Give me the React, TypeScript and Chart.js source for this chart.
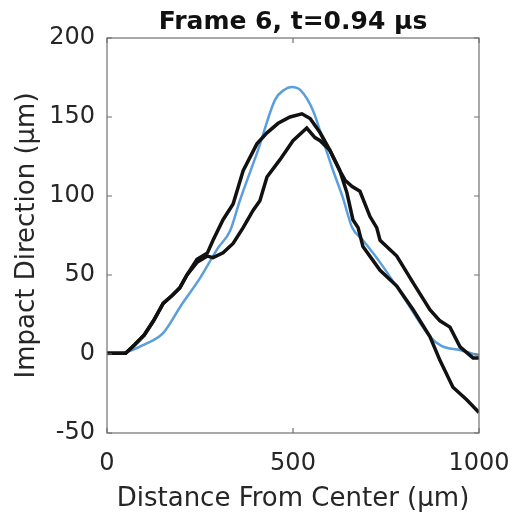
import React, { useEffect, useRef } from "react";
import { Chart, registerables } from "chart.js";

Chart.register(...registerables);

const titleText = "Frame 6, t=0.94 μs";
const xTitle = "Distance From Center (μm)";
const yTitle = "Impact Direction (μm)";
const xTicks = [0, 500, 1000];
const yTicks = [-50, 0, 50, 100, 150, 200];

const modelX = [0, 50, 100, 150, 200, 250, 298, 331, 357, 406, 452, 475, 497, 520, 554, 581, 608, 634, 659, 688, 734, 800, 868, 900, 949, 1000];
const modelY = [0, 1, 6, 13, 31, 48, 67, 78, 97, 129, 161, 167, 169, 167, 154, 135, 116, 99, 80, 72, 58, 35, 11, 5, 2.5, -1];

const measAX = [0, 50, 75, 100, 125, 151, 175, 196, 215, 242, 270, 285, 312, 339, 366, 403, 430, 460, 492, 524, 546, 573, 599, 626, 645, 661, 675, 688, 734, 779, 823, 868, 895, 930, 967, 1000];
const measAY = [0.5, 0.5, 6, 12, 21, 32, 37, 42, 50, 60, 64, 72, 85, 95, 116, 133, 140, 146, 150, 152, 149, 140, 129, 116, 102, 85, 80, 68, 53, 43, 28, 11, -4, -21, -29, -37];

const measBX = [0, 50, 75, 100, 125, 151, 175, 196, 215, 242, 270, 285, 312, 339, 366, 393, 411, 430, 465, 500, 537, 559, 573, 599, 626, 640, 659, 680, 707, 725, 734, 779, 823, 868, 895, 922, 949, 984, 1000];
const measBY = [0.5, 0.5, 6, 12, 21, 32, 37, 42, 50, 58, 62, 61, 64, 70, 80, 91, 97, 112, 123, 135, 143, 137, 135, 129, 116, 110, 106, 103, 87, 80, 72, 62, 45, 28, 21, 17, 4.5, -2.5, -2.5];

const toPts = (xs: number[], ys: number[]) => xs.map((x, i) => ({ x, y: ys[i] }));

const FONT = "'DejaVu Sans', 'Liberation Sans', Arial, sans-serif";
const TEXT = "#262626";
const AXIS = "#707070";

const boxPlugin = {
  id: "boxPlugin",
  afterDraw(chart: any) {
    const { ctx, chartArea: a, scales } = chart;
    const xs = scales.x;
    const ys = scales.y;
    ctx.save();
    ctx.strokeStyle = AXIS;
    ctx.lineWidth = 1.2;
    ctx.strokeRect(a.left, a.top, a.right - a.left, a.bottom - a.top);
    const L = 5;
    ctx.beginPath();
    for (const v of xTicks) {
      const px = xs.getPixelForValue(v);
      ctx.moveTo(px, a.bottom);
      ctx.lineTo(px, a.bottom - L);
      ctx.moveTo(px, a.top);
      ctx.lineTo(px, a.top + L);
    }
    for (const v of yTicks) {
      const py = ys.getPixelForValue(v);
      ctx.moveTo(a.left, py);
      ctx.lineTo(a.left + L, py);
      ctx.moveTo(a.right, py);
      ctx.lineTo(a.right - L, py);
    }
    ctx.stroke();
    ctx.fillStyle = "#111";
    ctx.font = `bold 25px ${FONT}`;
    ctx.textAlign = "center";
    ctx.textBaseline = "middle";
    ctx.fillText(titleText, (a.left + a.right) / 2, 22);
    ctx.restore();
  },
};

export default function App() {
  const ref = useRef<HTMLCanvasElement | null>(null);
  useEffect(() => {
    if (!ref.current) return;
    const chart = new Chart(ref.current, {
      type: "line",
      data: {
        datasets: [
          {
            data: toPts(measAX, measAY),
            borderColor: "#111111",
            borderWidth: 3.5,
            pointRadius: 0,
            tension: 0,
            order: 1,
          },
          {
            data: toPts(measBX, measBY),
            borderColor: "#111111",
            borderWidth: 3.5,
            pointRadius: 0,
            tension: 0,
            order: 1,
          },
          {
            data: toPts(modelX, modelY),
            borderColor: "#5B9EDD",
            borderWidth: 2.5,
            pointRadius: 0,
            cubicInterpolationMode: "monotone",
            order: 2,
          },
        ],
      },
      options: {
        animation: false,
        responsive: false,
        layout: { padding: { top: 38, right: 34, left: 0, bottom: 0 } },
        plugins: { legend: { display: false }, tooltip: { enabled: false }, title: { display: false } },
        scales: {
          x: {
            type: "linear",
            min: 0,
            max: 1000,
            afterBuildTicks: (s: any) => {
              s.ticks = xTicks.map((v) => ({ value: v }));
            },
            afterFit: (s: any) => {
              s.height = 83;
              s.paddingLeft = 0;
              s.paddingRight = 0;
            },
            grid: { display: false, drawTicks: false },
            border: { display: false },
            ticks: {
              color: TEXT,
              font: { family: FONT, size: 24 },
              padding: 16,
              maxRotation: 0,
              callback: (v: any) => String(v),
            },
            title: {
              display: true,
              text: xTitle,
              color: TEXT,
              font: { family: FONT, size: 26 },
              padding: { top: 0, bottom: 1 },
            },
          },
          y: {
            type: "linear",
            min: -50,
            max: 200,
            afterBuildTicks: (s: any) => {
              s.ticks = yTicks.map((v) => ({ value: v }));
            },
            afterFit: (s: any) => {
              s.width = 107;
              s.paddingTop = 0;
              s.paddingBottom = 0;
            },
            grid: { display: false, drawTicks: false },
            border: { display: false },
            ticks: {
              color: TEXT,
              font: { family: FONT, size: 24 },
              padding: 12,
              callback: (v: any) => String(v),
            },
            title: {
              display: true,
              text: yTitle,
              color: TEXT,
              font: { family: FONT, size: 26 },
              padding: { top: 12, bottom: 0 },
            },
          },
        },
      },
      plugins: [boxPlugin],
    });
    return () => chart.destroy();
  }, []);
  return (
    <div style={{ position: "fixed", left: 0, top: 0, width: 513, height: 516, background: "#fff" }}>
      <canvas ref={ref} width={513} height={516} style={{ width: 513, height: 516, display: "block" }} />
    </div>
  );
}
